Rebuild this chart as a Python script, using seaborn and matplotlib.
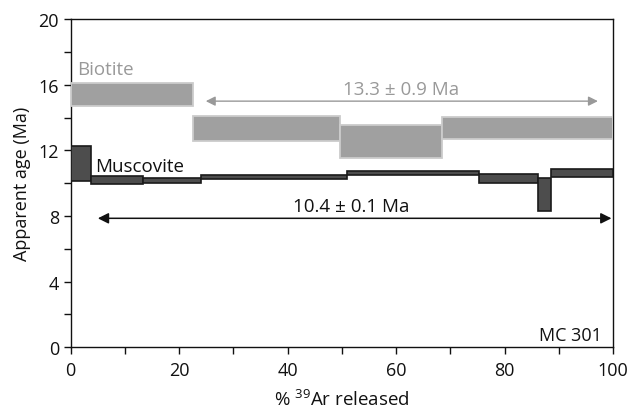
import numpy as np
import matplotlib
matplotlib.use('Agg')
import matplotlib.pyplot as plt
import seaborn as sns
from matplotlib.ticker import MultipleLocator

# Данные ступенчатого нагрева (% 39Ar, возраст в Ma)
biotite_edges = [0, 22.6, 49.6, 68.4, 100]
biotite_top = [16.10, 14.07, 13.54, 14.03]
biotite_bottom = [14.68, 12.58, 11.51, 12.69]

muscovite_edges = [0, 3.7, 13.3, 24.0, 51.0, 75.3, 86.2, 88.6, 100]
muscovite_top = [12.24, 10.41, 10.31, 10.49, 10.72, 10.55, 10.31, 10.86]
muscovite_bottom = [10.13, 9.93, 9.99, 10.25, 10.49, 10.02, 8.28, 10.37]

biotite_plateau = (24.9, 97.2, 15.0)
muscovite_plateau = (5.0, 99.7, 7.86)

sns.set_theme(style='ticks')
plt.rcParams['font.family'] = ['Open Sans', 'DejaVu Sans']
plt.rcParams['mathtext.default'] = 'regular'

fig = plt.figure(figsize=(6.27, 4.10), dpi=100)
ax = fig.add_axes([0.1128, 0.1505, 0.865, 0.8005])


def draw_spectrum(edges, top, bottom, face, edge, lw):
    left = np.array(edges[:-1])
    width = np.diff(edges)
    height = np.array(top) - np.array(bottom)
    ax.bar(left, height, width=width, bottom=bottom, align='edge',
           color=face, edgecolor=edge, linewidth=lw, zorder=3)


draw_spectrum(biotite_edges, biotite_top, biotite_bottom, '#a0a0a0', '#cccccc', 1.3)
draw_spectrum(muscovite_edges, muscovite_top, muscovite_bottom, '#4d4d4d', '#1a1a1a', 1.2)

# Стрелки плато
x0, x1, y = biotite_plateau
ax.annotate('', xy=(x0, y), xytext=(x1, y),
            arrowprops=dict(arrowstyle='<|-|>', color='#999999', lw=1.0,
                            mutation_scale=14, shrinkA=0, shrinkB=0))
x0, x1, y = muscovite_plateau
ax.annotate('', xy=(x0, y), xytext=(x1, y),
            arrowprops=dict(arrowstyle='<|-|>', color='#111111', lw=1.1,
                            mutation_scale=16, shrinkA=0, shrinkB=0))

ax.text(1.1, 16.95, 'Biotite', color='#999999', fontsize=13.5, va='center', ha='left')
ax.text(4.5, 11.05, 'Muscovite', color='#111111', fontsize=13.5, va='center', ha='left')
ax.text(60.9, 15.73, '13.3 ± 0.9 Ma', color='#999999', fontsize=13.5, va='center', ha='center')
ax.text(51.8, 8.62, '10.4 ± 0.1 Ma', color='#111111', fontsize=13.5, va='center', ha='center')
ax.text(98.0, 0.75, 'MC 301', color='#111111', fontsize=13, va='center', ha='right')

ax.set_xlim(0, 100)
ax.set_ylim(0, 20)
ax.xaxis.set_major_locator(MultipleLocator(20))
ax.xaxis.set_minor_locator(MultipleLocator(10))
ax.yaxis.set_major_locator(MultipleLocator(4))
ax.yaxis.set_minor_locator(MultipleLocator(2))
ax.tick_params(which='both', direction='out', length=5, width=1, color='#111111',
               top=False, right=False, labelsize=13, labelcolor='#111111')
ax.tick_params(axis='x', pad=5)

for s in ax.spines.values():
    s.set_color('#111111')
    s.set_linewidth(1.0)
    s.set_visible(True)

ax.set_xlabel('% $^{39}$Ar released', fontsize=13.5, color='#111111', labelpad=7)
ax.set_ylabel('Apparent age (Ma)', fontsize=13, color='#111111', labelpad=5)

fig.savefig('out.png', dpi=100)
